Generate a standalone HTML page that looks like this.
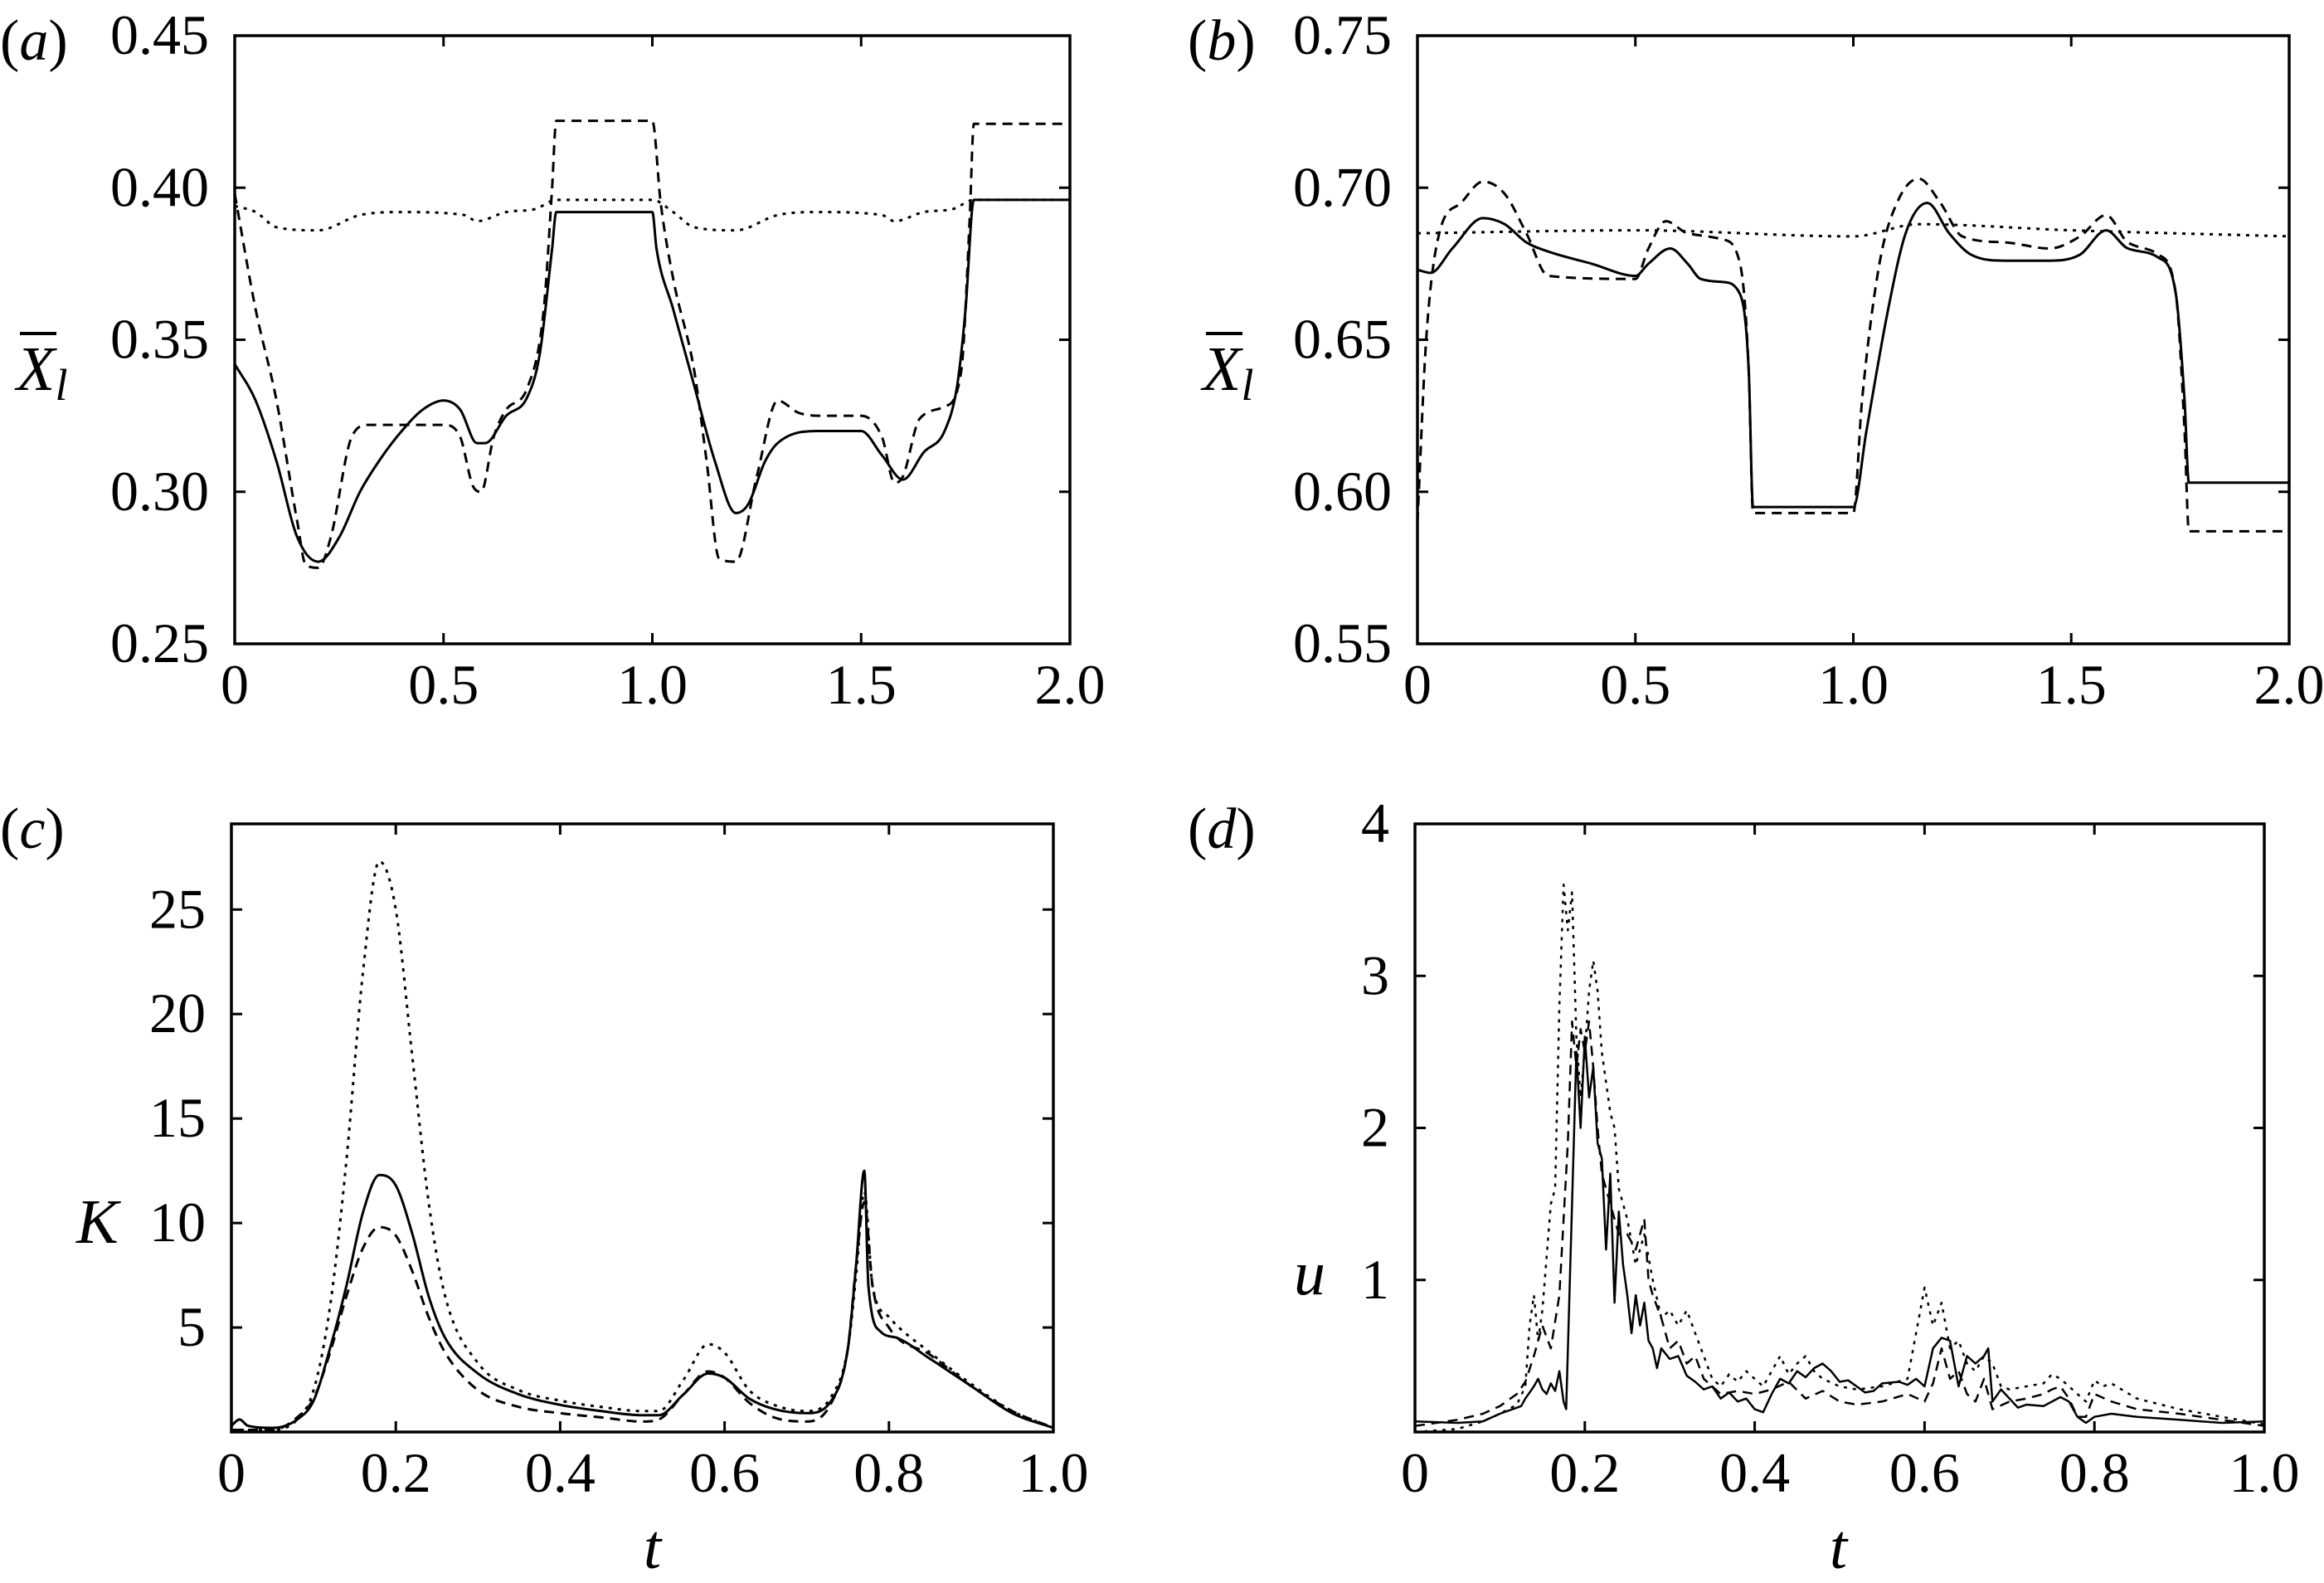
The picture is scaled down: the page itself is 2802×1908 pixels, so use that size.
<!DOCTYPE html>
<html><head><meta charset="utf-8"><style>
html,body{margin:0;padding:0;background:#fff;}
svg{display:block;}
svg text{font-family:"Liberation Serif","Times New Roman",serif;}
</style></head><body>
<svg id="fig" width="2802" height="1908" viewBox="0 0 2802 1908" xmlns="http://www.w3.org/2000/svg">
<text x="0" y="72" font-size="70" font-style="italic"><tspan font-style="normal">(</tspan>a<tspan font-style="normal">)</tspan></text>
<text x="1432" y="72" font-size="70" font-style="italic"><tspan font-style="normal">(</tspan>b<tspan font-style="normal">)</tspan></text>
<text x="0" y="1022" font-size="70" font-style="italic"><tspan font-style="normal">(</tspan>c<tspan font-style="normal">)</tspan></text>
<text x="1432" y="1022" font-size="70" font-style="italic"><tspan font-style="normal">(</tspan>d<tspan font-style="normal">)</tspan></text>
<g><text x="20" y="470" font-size="76" font-style="italic">X<tspan font-size="54" dy="12">l</tspan></text><line x1="24" y1="402" x2="68" y2="402" stroke="#000" stroke-width="4"/></g>
<g><text x="1450" y="470" font-size="76" font-style="italic">X<tspan font-size="54" dy="12">l</tspan></text><line x1="1454" y1="402" x2="1498" y2="402" stroke="#000" stroke-width="4"/></g>
<text x="92" y="1498" font-size="76" font-style="italic">K</text>
<text x="1560" y="1560" font-size="76" font-style="italic">u</text>
<text x="776" y="1890" font-size="76" font-style="italic">t</text>
<text x="2206" y="1890" font-size="76" font-style="italic">t</text>
</svg>
<script>
// Panel (a)
const tA=[0,0.05,0.1,0.15,0.2,0.25,0.3,0.35,0.4,0.45,0.5,0.54,0.58,0.6,0.65,0.7,0.73,0.76,0.77,1.0,1.01,1.05,1.1,1.15,1.2,1.23,1.27,1.3,1.4,1.5,1.55,1.6,1.65,1.7,1.73,1.75,1.77,2.0];
const solidA=[0.342,0.33,0.31,0.285,0.277,0.285,0.3,0.311,0.32,0.327,0.33,0.327,0.316,0.316,0.325,0.331,0.345,0.38,0.392,0.392,0.38,0.36,0.335,0.31,0.293,0.296,0.31,0.316,0.32,0.32,0.312,0.304,0.313,0.32,0.335,0.36,0.396,0.396];
const tA2=[0,0.05,0.1,0.15,0.17,0.2,0.23,0.28,0.32,0.5,0.54,0.57,0.59,0.62,0.65,0.7,0.74,0.76,0.77,1.0,1.02,1.05,1.1,1.13,1.16,1.2,1.25,1.3,1.35,1.4,1.5,1.55,1.58,1.6,1.64,1.7,1.74,1.76,1.77,2.0];
const dashedA=[0.398,0.36,0.33,0.29,0.276,0.275,0.285,0.318,0.322,0.322,0.318,0.302,0.3,0.318,0.327,0.334,0.36,0.4,0.422,0.422,0.395,0.37,0.34,0.31,0.278,0.277,0.305,0.33,0.326,0.325,0.325,0.318,0.303,0.305,0.324,0.328,0.34,0.39,0.421,0.421];
const tA3=[0,0.05,0.1,0.2,0.3,0.4,0.55,0.58,0.65,0.72,0.77,1.0,1.05,1.1,1.2,1.3,1.4,1.55,1.58,1.65,1.72,1.77,2.0];
const dottedA=[0.394,0.392,0.387,0.386,0.391,0.392,0.391,0.389,0.392,0.393,0.396,0.396,0.392,0.387,0.386,0.391,0.392,0.391,0.389,0.392,0.393,0.396,0.396];
// Panel (b)
const tB=[0,0.03,0.08,0.15,0.2,0.25,0.3,0.4,0.5,0.53,0.58,0.62,0.65,0.7,0.74,0.76,0.77,1.0,1.03,1.08,1.12,1.17,1.22,1.27,1.35,1.45,1.52,1.58,1.63,1.7,1.74,1.76,1.77,2.0];
const solidB=[0.673,0.672,0.68,0.69,0.688,0.682,0.679,0.675,0.671,0.675,0.68,0.675,0.67,0.669,0.665,0.64,0.595,0.595,0.62,0.66,0.685,0.695,0.685,0.678,0.676,0.676,0.678,0.686,0.68,0.677,0.665,0.63,0.603,0.603];
const tB2=[0,0.02,0.05,0.1,0.15,0.2,0.25,0.3,0.5,0.53,0.57,0.62,0.7,0.74,0.76,0.77,1.0,1.02,1.06,1.1,1.15,1.2,1.25,1.35,1.45,1.52,1.58,1.63,1.7,1.74,1.76,1.77,2.0];
const dashedB=[0.59,0.65,0.685,0.695,0.702,0.698,0.685,0.671,0.67,0.68,0.689,0.685,0.683,0.675,0.64,0.593,0.593,0.63,0.675,0.695,0.703,0.695,0.684,0.682,0.68,0.684,0.691,0.682,0.678,0.665,0.62,0.587,0.587];
const tB3=[0,0.5,1.0,1.15,1.5,2.0];
const dottedB=[0.685,0.686,0.684,0.688,0.686,0.684];
// Panel (c)
const tC=[0,0.01,0.02,0.05,0.08,0.1,0.12,0.14,0.16,0.18,0.2,0.22,0.24,0.26,0.3,0.35,0.4,0.45,0.5,0.52,0.55,0.58,0.6,0.63,0.66,0.7,0.73,0.75,0.76,0.77,0.775,0.79,0.81,0.85,0.9,0.95,1.0];
const solidC=[0.3,0.6,0.3,0.2,0.6,1.5,4,7,10.5,12.3,11.8,9.5,6.5,4.5,2.8,1.8,1.3,1.0,0.8,0.8,1.8,2.8,2.6,1.6,1.1,0.9,1.5,4,8,12.5,7,4.8,4.5,3.5,2.2,0.9,0.2];
const tC2=[0,0.05,0.08,0.1,0.12,0.14,0.16,0.18,0.2,0.22,0.24,0.26,0.3,0.35,0.4,0.45,0.5,0.52,0.55,0.58,0.6,0.63,0.66,0.7,0.73,0.75,0.76,0.77,0.78,0.8,0.85,0.9,0.95,1.0];
const dottedC=[0.1,0.1,0.6,2,6,13,22,27.3,25,18,11,6.5,3.3,2,1.5,1.2,1.0,1.0,2.5,4.2,3.8,2,1.3,1.0,1.7,4,7.5,11.5,7,5.5,3.8,2.3,1.0,0.2];
const dashedC=[0.1,0.1,0.7,1.6,3.8,6.5,8.8,9.8,9.4,7.7,5.5,3.8,2,1.2,0.9,0.7,0.5,0.6,1.8,2.9,2.6,1.4,0.7,0.5,1.4,4,8,11,7,5,3.7,2.2,1,0.2];
// Panel (d)
const tD=[0,0.05,0.08,0.1,0.125,0.13,0.14,0.145,0.15,0.155,0.16,0.165,0.17,0.175,0.178,0.185,0.19,0.195,0.2,0.205,0.21,0.215,0.22,0.225,0.23,0.235,0.24,0.245,0.25,0.255,0.26,0.265,0.27,0.275,0.28,0.285,0.29,0.3,0.31,0.32,0.33,0.34,0.35,0.36,0.37,0.38,0.39,0.4,0.41,0.42,0.43,0.44,0.45,0.46,0.47,0.48,0.49,0.5,0.51,0.52,0.53,0.54,0.55,0.57,0.58,0.59,0.6,0.61,0.62,0.63,0.64,0.65,0.66,0.67,0.675,0.68,0.69,0.7,0.71,0.72,0.74,0.76,0.77,0.78,0.79,0.8,0.82,0.85,0.9,0.95,1.0];
const solidD=[0.07,0.06,0.07,0.12,0.17,0.22,0.3,0.35,0.28,0.25,0.32,0.27,0.4,0.2,0.15,1.5,2.5,2.0,2.6,2.2,2.4,1.9,1.8,1.2,1.7,0.85,1.45,1.1,0.9,0.65,0.9,0.7,0.85,0.6,0.55,0.42,0.55,0.48,0.5,0.37,0.33,0.28,0.3,0.22,0.26,0.2,0.22,0.15,0.13,0.25,0.35,0.32,0.4,0.36,0.42,0.45,0.4,0.33,0.34,0.3,0.26,0.27,0.32,0.33,0.31,0.35,0.3,0.55,0.62,0.6,0.3,0.5,0.45,0.5,0.55,0.2,0.28,0.22,0.16,0.18,0.17,0.23,0.2,0.1,0.06,0.1,0.12,0.1,0.08,0.06,0.07];
const tD2=[0,0.05,0.08,0.1,0.12,0.13,0.135,0.14,0.145,0.15,0.16,0.165,0.17,0.175,0.18,0.185,0.19,0.195,0.2,0.205,0.21,0.215,0.22,0.225,0.23,0.235,0.24,0.25,0.26,0.27,0.28,0.29,0.3,0.31,0.32,0.33,0.34,0.35,0.36,0.37,0.38,0.39,0.4,0.41,0.42,0.43,0.44,0.45,0.46,0.47,0.48,0.5,0.52,0.55,0.58,0.6,0.61,0.62,0.63,0.64,0.65,0.66,0.67,0.68,0.69,0.7,0.72,0.74,0.75,0.76,0.77,0.78,0.79,0.8,0.81,0.82,0.85,0.9,0.95,1.0];
const dottedD=[0.0,0.02,0.07,0.12,0.18,0.3,0.7,0.9,0.6,0.8,1.5,1.6,2.8,3.6,3.3,3.55,2.6,2.2,2.5,2.9,3.1,2.9,2.5,2.3,2.1,2.0,1.6,1.4,1.1,1.3,1.0,0.75,0.8,0.7,0.8,0.65,0.5,0.35,0.3,0.38,0.33,0.4,0.35,0.3,0.4,0.5,0.38,0.45,0.5,0.4,0.35,0.3,0.28,0.3,0.35,0.95,0.7,0.85,0.55,0.6,0.45,0.4,0.5,0.45,0.3,0.28,0.3,0.32,0.38,0.35,0.3,0.25,0.2,0.34,0.3,0.32,0.22,0.15,0.1,0.05];
const tD3=[0,0.05,0.08,0.1,0.12,0.13,0.14,0.15,0.16,0.17,0.175,0.18,0.185,0.19,0.195,0.2,0.205,0.21,0.215,0.22,0.23,0.24,0.25,0.26,0.27,0.275,0.28,0.29,0.3,0.31,0.32,0.33,0.34,0.35,0.36,0.38,0.4,0.42,0.44,0.46,0.48,0.5,0.52,0.55,0.58,0.6,0.61,0.62,0.63,0.64,0.65,0.66,0.67,0.68,0.7,0.72,0.74,0.75,0.76,0.77,0.78,0.79,0.8,0.82,0.85,0.9,0.95,1.0];
const dashedD=[0.04,0.08,0.12,0.17,0.25,0.33,0.5,0.7,0.55,0.9,1.4,1.9,2.7,2.4,2.65,2.5,2.7,2.4,2.0,1.7,1.5,1.3,1.3,1.2,1.4,1.0,0.9,0.75,0.55,0.6,0.45,0.5,0.35,0.3,0.25,0.27,0.25,0.28,0.33,0.22,0.27,0.2,0.18,0.2,0.25,0.2,0.32,0.55,0.35,0.4,0.25,0.2,0.35,0.15,0.2,0.22,0.25,0.28,0.3,0.22,0.1,0.1,0.25,0.2,0.15,0.12,0.08,0.04];
// Tick labels
const ticksAx=[0,0.5,1.0,1.5,2.0]; const ticksAxLbl=["0","0.5","1.0","1.5","2.0"];
const ticksAy=[0.25,0.30,0.35,0.40,0.45]; const ticksAyLbl=["0.25","0.30","0.35","0.40","0.45"];
const ticksBy=[0.55,0.60,0.65,0.70,0.75]; const ticksByLbl=["0.55","0.60","0.65","0.70","0.75"];
const ticksCx=[0,0.2,0.4,0.6,0.8,1.0]; const ticksCxLbl=["0","0.2","0.4","0.6","0.8","1.0"];
const ticksCy=[5,10,15,20,25]; const ticksCyLbl=["5","10","15","20","25"];
const ticksDy=[1,2,3,4]; const ticksDyLbl=["1","2","3","4"];

const NS="http://www.w3.org/2000/svg";
const svg=document.getElementById('fig');
function mk(tag,attrs,parent){const e=document.createElementNS(NS,tag);for(const k in attrs)e.setAttribute(k,attrs[k]);(parent||svg).appendChild(e);return e;}
// monotone cubic path (Fritsch-Carlson)
function monoPath(xs,ys){
  const n=xs.length;
  if(n<3){return xs.map((x,i)=>(i?'L':'M')+x.toFixed(1)+' '+ys[i].toFixed(1)).join(' ');}
  const d=[],m=new Array(n);
  for(let i=0;i<n-1;i++){const dx=xs[i+1]-xs[i];d.push(dx===0?0:(ys[i+1]-ys[i])/dx);}
  m[0]=d[0];m[n-1]=d[n-2];
  for(let i=1;i<n-1;i++){m[i]=(d[i-1]*d[i]<=0)?0:(d[i-1]+d[i])/2;}
  for(let i=0;i<n-1;i++){
    if(d[i]===0){m[i]=0;m[i+1]=0;continue;}
    const a=m[i]/d[i],b=m[i+1]/d[i],s=a*a+b*b;
    if(s>9){const t=3/Math.sqrt(s);m[i]=t*a*d[i];m[i+1]=t*b*d[i];}
  }
  let p='M'+xs[0].toFixed(1)+' '+ys[0].toFixed(1);
  for(let i=0;i<n-1;i++){
    const h=(xs[i+1]-xs[i])/3;
    p+=' C'+(xs[i]+h).toFixed(1)+' '+(ys[i]+m[i]*h).toFixed(1)+' '+(xs[i+1]-h).toFixed(1)+' '+(ys[i+1]-m[i+1]*h).toFixed(1)+' '+xs[i+1].toFixed(1)+' '+ys[i+1].toFixed(1);
  }
  return p;
}
function panel(id,L,T,R,B,x0,x1,y0,y1,xt,xl,yt,yl,series,smooth){
  const sx=v=>L+(v-x0)/(x1-x0)*(R-L);
  const sy=v=>B-(v-y0)/(y1-y0)*(B-T);
  const g=mk('g',{});
  
  
  const clip=mk('clipPath',{id:'clip'+id},g);
  mk('rect',{x:L,y:T,width:R-L,height:B-T},clip);
  series.forEach(s=>{
    const xs=s.t.map(sx), ys=s.v.map(sy);
    const d=smooth?monoPath(xs,ys):xs.map((x,i)=>(i?'L':'M')+x.toFixed(1)+' '+ys[i].toFixed(1)).join(' ');
    const p=mk('path',{d:d,fill:'none',stroke:'#000','stroke-width':s.w||3,'stroke-dasharray':s.dash||'none','stroke-linejoin':'round','clip-path':'url(#clip'+id+')'},g);
    
    
  });
  const fr=mk('rect',{x:L,y:T,width:R-L,height:B-T,fill:'none',stroke:'#000','stroke-width':3.5},g);
  
  
  xt.forEach((v,i)=>{
    const x=sx(v);
    mk('line',{x1:x,y1:B,x2:x,y2:B-13,stroke:'#000','stroke-width':3},g);
    mk('line',{x1:x,y1:T,x2:x,y2:T+13,stroke:'#000','stroke-width':3},g);
    const t=mk('text',{x:x,y:B+72,'font-size':68,'text-anchor':'middle'},g);
    t.textContent=xl[i];
    
    
  });
  yt.forEach((v,i)=>{
    const y=sy(v);
    mk('line',{x1:L,y1:y,x2:L+13,y2:y,stroke:'#000','stroke-width':3},g);
    mk('line',{x1:R,y1:y,x2:R-13,y2:y,stroke:'#000','stroke-width':3},g);
    const t=mk('text',{x:L-31,y:y+22,'font-size':68,'text-anchor':'end'},g);
    t.textContent=yl[i];
    
    
  });
}
const DASH='12 8', DOT='4 7';
panel('a',283,43,1290,776,0,2,0.25,0.45,ticksAx,ticksAxLbl,ticksAy,ticksAyLbl,[
 {t:tA3,v:dottedA,dash:DOT,name:'dotted-line-a'},{t:tA2,v:dashedA,dash:DASH,name:'dashed-line-a'},{t:tA,v:solidA,name:'solid-line-a'}],true);
panel('b',1709,43,2760,776,0,2,0.55,0.75,ticksAx,ticksAxLbl,ticksBy,ticksByLbl,[
 {t:tB3,v:dottedB,dash:DOT,name:'dotted-line-b'},{t:tB2,v:dashedB,dash:DASH,name:'dashed-line-b'},{t:tB,v:solidB,name:'solid-line-b'}],true);
panel('c',279,993,1270,1726,0,1,0,29.1,ticksCx,ticksCxLbl,ticksCy,ticksCyLbl,[
 {t:tC2,v:dottedC,dash:DOT,name:'dotted-line-c'},{t:tC2,v:dashedC,dash:DASH,name:'dashed-line-c'},{t:tC,v:solidC,name:'solid-line-c'}],true);
panel('d',1706,993,2730,1726,0,1,0,4,ticksCx,ticksCxLbl,ticksDy,ticksDyLbl,[
 {t:tD2,v:dottedD,dash:DOT,w:2.5,name:'dotted-line-d'},{t:tD3,v:dashedD,dash:DASH,w:2.5,name:'dashed-line-d'},{t:tD,v:solidD,w:2.5,name:'solid-line-d'}],false);
</script>
</body></html>
